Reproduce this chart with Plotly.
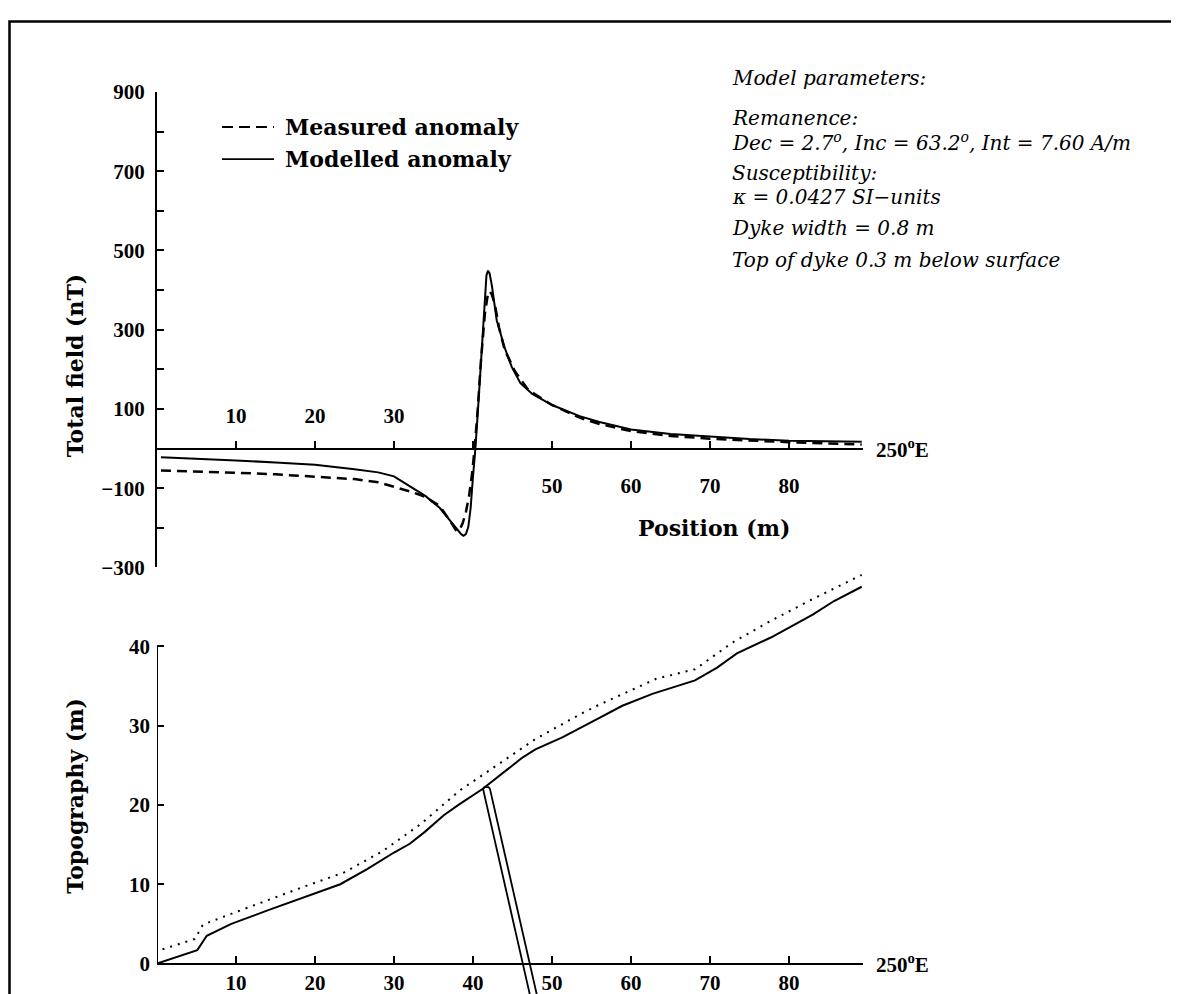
import plotly.graph_objects as go

# ---------------- data ----------------
# Total field anomaly profile (nT) vs position (m)
model_x = [0.5, 5, 10, 15, 20, 25, 28, 30, 32, 34, 35.8, 37, 38, 38.5, 38.8, 39.1, 39.4,
           39.7, 40.0, 40.3, 40.7, 41.1, 41.5, 41.7, 41.9, 42.1, 42.4, 43.0, 44.0, 44.9,
           46.0, 47.5, 50, 53.5, 56, 60, 65, 70, 75, 80, 85, 89.2]
model_nT = [-22, -25, -30, -35, -41, -52, -60, -70, -95, -120, -150, -180, -205, -216, -220,
            -216, -198, -150, -70, 0, 120, 260, 390, 437, 449, 442, 410, 324, 255, 206,
            165, 138, 110, 82, 67, 48, 37, 30, 24, 20, 18, 17]

meas_x = [0.5, 5, 10, 15, 20, 25, 28, 30, 32, 34, 35.8, 37, 37.5, 37.9, 38.3, 38.7, 39.1,
          39.5, 39.9, 40.2, 40.6, 41.0, 41.5, 41.9, 42.1, 42.4, 42.8, 43.3, 44, 45.3,
          47, 50, 53.5, 56, 60, 65, 70, 75, 80, 85, 89.2]
meas_nT = [-55, -57, -61, -65, -71, -77, -85, -96, -108, -122, -145, -180, -197, -208, -205,
           -188, -160, -120, -60, 0, 100, 220, 340, 392, 397, 388, 360, 305, 250, 195,
           148, 110, 78, 62, 44, 32, 25, 20, 16, 13, 10]

# Topography (m) vs position (m)
topo_x = [0, 5.1, 6.3, 9.4, 14.0, 18.9, 23.2, 26.6, 30.0, 32.0, 33.9, 36.3, 38.3, 41.2,
          43.6, 46.3, 47.9, 51.3, 55.7, 58.9, 62.7, 68.1, 70.9, 73.4, 77.7, 83.0, 85.7, 89.2]
topo_y = [0, 1.7, 3.5, 5.0, 6.7, 8.5, 10.0, 11.9, 14.0, 15.1, 16.6, 18.7, 20.1, 22.0,
          23.9, 26.0, 27.0, 28.5, 30.8, 32.5, 34.0, 35.7, 37.3, 39.1, 41.1, 44.0, 45.7, 47.5]

# Sensor level (dotted)
sensor_x = [0.7, 4.8, 5.8, 9.2, 18.9, 23.7, 28.6, 33.4, 38.3, 43.1, 47.9, 53.5, 55.7,
            63.2, 68.1, 72.9, 77.7, 82.5, 89.2]
sensor_y = [1.8, 3.1, 4.9, 6.2, 9.8, 11.5, 14.2, 17.6, 21.8, 25.1, 28.3, 31.4, 32.5,
            35.9, 37.1, 40.5, 43.2, 45.7, 49.0]

# Dyke outline
dyke_x = [47.26, 41.27, 41.45, 41.97, 42.15, 48.14]
dyke_y = [-4.2, 22.0, 22.25, 22.25, 22.0, -4.2]

# Ticks
x_ticks = [10, 20, 30, 40, 50, 60, 70, 80]
top_low_ticks = [50, 60, 70, 80]
top_low_labels = ["50", "60", "70", "80"]
top_minor_ticks = [10, 20, 30, 40]
top_high_ticks = [10, 20, 30]
top_high_labels = ["10", "20", "30"]
bot_labels = ["10", "20", "30", "40", "50", "60", "70", "80"]
nT_major = [-300, -100, 100, 300, 500, 700, 900]
nT_labels = ["\u2212300", "\u2212100", "100", "300", "500", "700", "900"]
nT_minor = [-200, 0, 200, 400, 600, 800]
topo_ticks = [0, 10, 20, 30, 40]
topo_labels = ["0", "10", "20", "30", "40"]

params_lines = [
    "Model parameters:",
    "Remanence:",
    "Dec = 2.7<sup>o</sup>, Inc = 63.2<sup>o</sup>, Int = 7.60 A/m",
    "Susceptibility:",
    "\u03ba = 0.0427 SI\u2212units",
    "Dyke width = 0.8 m",
    "Top of dyke 0.3 m below surface",
]
params_py = [78, 118, 142, 173, 197, 228, 260]

# ---------------- layout geometry (screen pixels of the target) ----------------
SX_OFF = 8.0                  # horizontal page offset of the figure
SY_OFF, SY_SCALE = 20.1, 0.975  # vertical page offset / scale of the figure
W, H = 1171, 1000             # figure size
AX_L, AX_R = 157.0, 862.5
X_MAX = 89.3
TOP_Y900, TOP_YM300 = 92.0, 567.0
BOT_Y0, BOT_Y40 = 962.7, 645.7
PPM = (BOT_Y0 - BOT_Y40) / 40.0
SCREEN_BOTTOM = SY_OFF + SY_SCALE * H
BOT_YMIN = -(SCREEN_BOTTOM - BOT_Y0) / PPM
BOT_YMAX = 50.5


def fx(px):
    return (px - SX_OFF) / W


def fy(py):
    return 1 - ((py - SY_OFF) / SY_SCALE) / H


top_zero_py = TOP_Y900 + (TOP_YM300 - TOP_Y900) * 900 / 1200
bot_top_py = BOT_Y0 - BOT_YMAX * PPM

SERIF = "DejaVu Serif"
TICKFONT = dict(family="Liberation Serif", size=21, color="black", weight="bold")
TITLEFONT = dict(family=SERIF, size=22, color="black", weight="bold")

fig = go.Figure()

fig.add_trace(go.Scatter(x=model_x, y=model_nT, mode="lines", xaxis="x", yaxis="y",
                         line=dict(color="black", width=2), showlegend=False,
                         name="Modelled anomaly"))
fig.add_trace(go.Scatter(x=meas_x, y=meas_nT, mode="lines", xaxis="x3", yaxis="y",
                         line=dict(color="black", width=2.5, dash="10px,6px"),
                         showlegend=False, name="Measured anomaly"))
fig.add_trace(go.Scatter(x=sensor_x, y=sensor_y, mode="lines", xaxis="x2", yaxis="y2",
                         line=dict(color="black", width=2, dash="2px,6px"), showlegend=False))
fig.add_trace(go.Scatter(x=topo_x, y=topo_y, mode="lines", xaxis="x2", yaxis="y2",
                         line=dict(color="black", width=2), showlegend=False))
fig.add_trace(go.Scatter(x=dyke_x, y=dyke_y, mode="lines", xaxis="x2", yaxis="y2",
                         line=dict(color="black", width=1.8), showlegend=False))

tick_style = dict(ticks="inside", ticklen=7, tickwidth=2, tickcolor="black")
common_x = dict(range=[0, X_MAX], domain=[fx(AX_L), fx(AX_R)], anchor="free",
                showgrid=False, zeroline=False, tickfont=TICKFONT,
                showline=True, linecolor="black", linewidth=2, **tick_style)

fig.update_layout(
    width=W, height=H, margin=dict(l=0, r=0, t=0, b=0),
    paper_bgcolor="white", plot_bgcolor="white",
    xaxis=dict(**common_x, position=fy(top_zero_py), tickvals=top_low_ticks,
               ticktext=top_low_labels, ticklabelstandoff=18,
               minor=dict(tickmode="array", tickvals=top_minor_ticks, **tick_style)),
    xaxis3=dict(range=[0, X_MAX], matches="x", overlaying="x", anchor="free",
                position=fy(top_zero_py), side="top", showline=False, showgrid=False,
                zeroline=False, ticks="", tickvals=top_high_ticks,
                ticktext=top_high_labels, tickfont=TICKFONT, ticklabelstandoff=21),
    yaxis=dict(range=[-300, 900], domain=[fy(TOP_YM300), fy(TOP_Y900)], anchor="x",
               showgrid=False, zeroline=False, tickvals=nT_major, ticktext=nT_labels,
               tickfont=TICKFONT, showline=True, linecolor="black", linewidth=2,
               ticklabelstandoff=6, **tick_style,
               minor=dict(tickmode="array", tickvals=nT_minor, **tick_style)),
    xaxis2=dict(**common_x, position=fy(BOT_Y0), tickvals=x_ticks, ticktext=bot_labels,
                ticklabelstandoff=0),
    yaxis2=dict(range=[BOT_YMIN, BOT_YMAX], domain=[0, fy(bot_top_py)], anchor="x2",
                showgrid=False, zeroline=False, tickvals=topo_ticks, ticktext=topo_labels,
                tickfont=TICKFONT, showline=False, ticklabelstandoff=6, **tick_style),
)

shapes = [
    # outer frame (top edge kept just inside the drawable area)
    dict(type="rect", xref="paper", yref="paper", x0=fx(9.5), x1=fx(1200),
         y0=fy(1010), y1=min(fy(12.5), 1 - 1.5 / H), line=dict(color="black", width=2.5)),
    # bottom-panel vertical axis line (0 to 40 m)
    dict(type="line", xref="x2", yref="y2", x0=0, x1=0, y0=0, y1=40,
         line=dict(color="black", width=2)),
    # legend keys
    dict(type="line", xref="paper", yref="paper", x0=fx(222), x1=fx(274),
         y0=fy(127), y1=fy(127), line=dict(color="black", width=2.2, dash="11px,6px")),
    dict(type="line", xref="paper", yref="paper", x0=fx(222), x1=fx(274),
         y0=fy(159), y1=fy(159), line=dict(color="black", width=1.8)),
]
fig.update_layout(shapes=shapes)

ann = []
ann.append(dict(text="Measured anomaly", x=fx(283), y=fy(127), xref="paper", yref="paper",
                xanchor="left", yanchor="middle", showarrow=False, font=TITLEFONT))
ann.append(dict(text="Modelled anomaly", x=fx(283), y=fy(159), xref="paper", yref="paper",
                xanchor="left", yanchor="middle", showarrow=False, font=TITLEFONT))
ann.append(dict(text="Total field (nT)", x=fx(75), y=fy(365), xref="paper", yref="paper",
                xanchor="center", yanchor="middle", textangle=-90, showarrow=False,
                font=TITLEFONT))
ann.append(dict(text="Topography (m)", x=fx(75), y=fy(795), xref="paper", yref="paper",
                xanchor="center", yanchor="middle", textangle=-90, showarrow=False,
                font=TITLEFONT))
ann.append(dict(text="Position (m)", x=fx(714), y=fy(528), xref="paper", yref="paper",
                xanchor="center", yanchor="middle", showarrow=False, font=TITLEFONT))
for py in (top_zero_py, BOT_Y0):
    ann.append(dict(text="250<sup>o</sup>E", x=fx(874), y=fy(py), xref="paper",
                    yref="paper", xanchor="left", yanchor="middle", showarrow=False,
                    font=TICKFONT))
for txt, py in zip(params_lines, params_py):
    ann.append(dict(text=txt, x=fx(730), y=fy(py), xref="paper", yref="paper",
                    xanchor="left", yanchor="middle", showarrow=False,
                    font=dict(family=SERIF, size=20, color="black", style="italic")))
fig.update_layout(annotations=ann)

fig.write_html("out.html")
